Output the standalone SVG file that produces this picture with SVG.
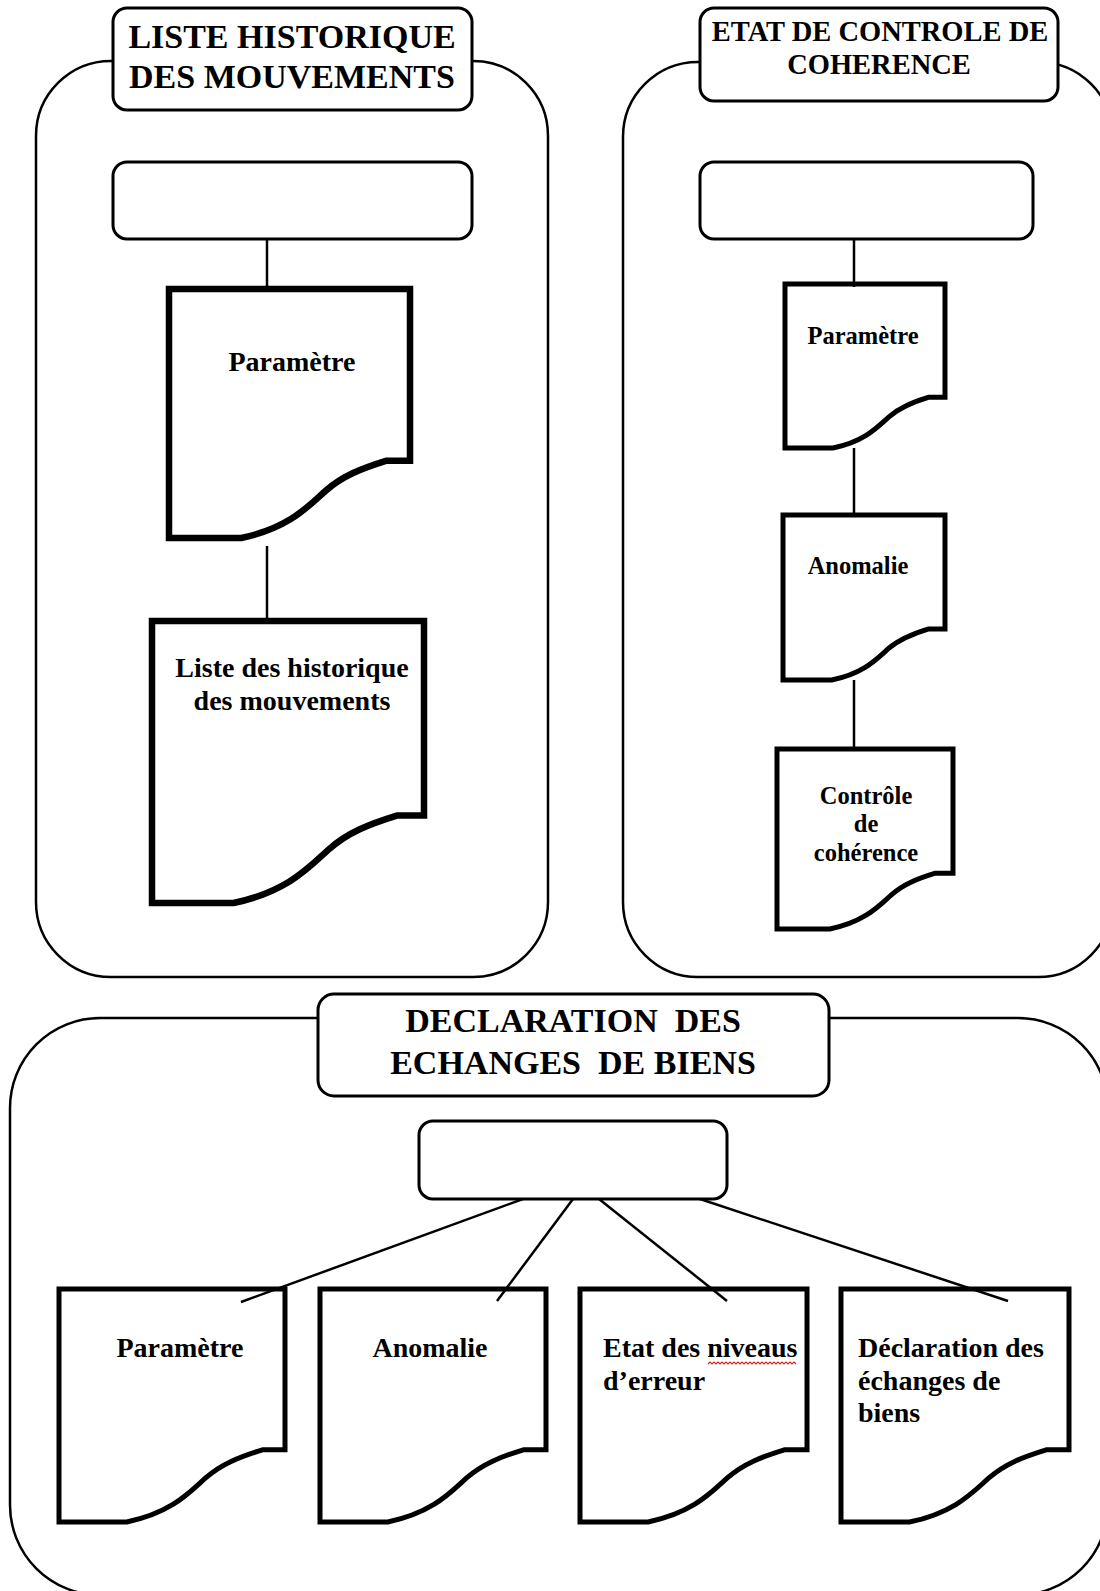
<svg xmlns="http://www.w3.org/2000/svg" width="1100" height="1591" viewBox="0 0 1100 1591">
<style>
.frame{fill:none;stroke:#000;stroke-width:2.5}
.label{fill:#fff;stroke:#000;stroke-width:3}
.inner{fill:#fff;stroke:#000;stroke-width:3}
.doc{fill:#fff;stroke:#000;stroke-width:5;stroke-linejoin:miter}
.docw{fill:#fff;stroke:#000;stroke-width:6.5;stroke-linejoin:miter}
.conn line{stroke:#000;stroke-width:2.5}
.tt{font-family:"Liberation Serif","Times New Roman",serif;font-weight:bold;fill:#000;text-anchor:middle}
.t{font-family:"Liberation Serif","Times New Roman",serif;font-weight:bold;font-size:28px;fill:#000}
.m{text-anchor:middle}
.s{font-size:24.5px}
</style>
<rect width="1100" height="1591" fill="#fff"/>

<g id="frames">
<rect id="frame-liste" class="frame" x="36" y="61" width="512" height="916" rx="75"/>
<rect id="frame-etat" class="frame" x="623" y="62" width="490" height="915" rx="75"/>
<rect id="frame-declaration" class="frame" x="10" y="1018" width="1098" height="577" rx="90"/>
</g>

<g id="title-liste">
<rect class="label" x="113" y="8" width="359" height="102" rx="14"/>
<text class="tt" x="292" y="48" font-size="34">LISTE  HISTORIQUE</text>
<text class="tt" x="292" y="88" font-size="34">DES MOUVEMENTS</text>
</g>
<g id="title-etat">
<rect class="label" x="700" y="8" width="358" height="93" rx="14"/>
<text class="tt" x="880" y="41" font-size="28.5">ETAT DE CONTROLE DE</text>
<text class="tt" x="879" y="74" font-size="28.5">COHERENCE</text>
</g>
<g id="title-declaration">
<rect class="label" x="318" y="994" width="511" height="102" rx="16"/>
<text class="tt" x="573" y="1032" font-size="34" style="white-space:pre">DECLARATION  DES</text>
<text class="tt" x="573" y="1074" font-size="34" style="white-space:pre">ECHANGES  DE BIENS</text>
</g>

<g id="root-liste"><rect class="inner" x="113" y="162" width="359" height="77" rx="14"/></g>
<g id="root-etat"><rect class="inner" x="700" y="162" width="333" height="77" rx="14"/></g>
<g id="root-declaration"><rect class="inner" x="419" y="1121" width="308" height="78" rx="14"/></g>

<g id="doc-l-parametre">
<path class="docw" d="M169,289 H410 V460.8 H385.9 C361.8,468.3 342.5,475.8 325.7,490.7 C308.8,505.6 289.5,528 241.3,538 H169 Z"/>
<text class="t m" x="292" y="371">Paramètre</text>
</g>
<g id="doc-l-liste">
<path class="docw" d="M152,621 H424 V815.6 H396.8 C369.6,824 347.8,832.5 328.8,849.4 C309.8,866.3 288,891.7 233.6,903 H152 Z"/>
<text class="t m" x="292" y="677">Liste des historique</text>
<text class="t m" x="292" y="710">des mouvements</text>
</g>

<g id="doc-r-parametre">
<path class="doc" d="M785,284 H945 V397.2 H929 C913,402.1 900.2,407 889,416.8 C877.8,426.7 865,441.4 833,448 H785 Z"/>
<text class="t m s" x="863" y="344">Paramètre</text>
</g>
<g id="doc-r-anomalie">
<path class="doc" d="M783,515 H945 V628.9 H928.8 C912.6,633.8 899.6,638.8 888.3,648.7 C877,658.6 864,673.4 831.6,680 H783 Z"/>
<text class="t m s" x="858" y="574">Anomalie</text>
</g>
<g id="doc-r-controle">
<path class="doc" d="M777,749 H953 V873.2 H935.4 C917.8,878.6 903.7,884 891.4,894.8 C879.1,905.6 865,921.8 829.8,929 H777 Z"/>
<text class="t m s" x="866" y="804">Contrôle</text>
<text class="t m s" x="866" y="832">de</text>
<text class="t m s" x="866" y="861">cohérence</text>
</g>

<g id="doc-b-parametre">
<path class="doc" d="M59,1289 H285 V1449.8 H262.4 C239.8,1456.8 221.7,1463.8 205.9,1477.7 C190.1,1491.7 172,1512.7 126.8,1522 H59 Z"/>
<text class="t m" x="180" y="1357">Paramètre</text>
</g>
<g id="doc-b-anomalie">
<path class="doc" d="M320,1289 H546 V1449.8 H523.4 C500.8,1456.8 482.7,1463.8 466.9,1477.7 C451.1,1491.7 433,1512.7 387.8,1522 H320 Z"/>
<text class="t m" x="430" y="1357">Anomalie</text>
</g>
<g id="doc-b-etat">
<path class="doc" d="M580,1289 H807 V1449.8 H784.3 C761.6,1456.8 743.4,1463.8 727.6,1477.7 C711.7,1491.7 693.5,1512.7 648.1,1522 H580 Z"/>
<text class="t" x="603" y="1357">Etat des niveaus</text>
<text class="t" x="603" y="1390">d’erreur</text>
<path d="M708,1364 l2,-2 l2,2 l2,-2 l2,2 l2,-2 l2,2 l2,-2 l2,2 l2,-2 l2,2 l2,-2 l2,2 l2,-2 l2,2 l2,-2 l2,2 l2,-2 l2,2 l2,-2 l2,2 l2,-2 l2,2 l2,-2 l2,2 l2,-2 l2,2 l2,-2 l2,2 l2,-2 l2,2 l2,-2 l2,2 l2,-2 l2,2 l2,-2 l2,2 l2,-2 l2,2 l2,-2 l2,2 l2,-2 l2,2 l2,-2 l2,2" fill="none" stroke="#e02020" stroke-width="1.2"/>
</g>
<g id="doc-b-declaration">
<path class="doc" d="M841,1289 H1069 V1449.8 H1046.2 C1023.4,1456.8 1005.2,1463.8 989.2,1477.7 C973.2,1491.7 955,1512.7 909.4,1522 H841 Z"/>
<text class="t" x="858" y="1357">Déclaration des</text>
<text class="t" x="858" y="1390">échanges de</text>
<text class="t" x="858" y="1422">biens</text>
</g>

<g id="connectors" class="conn">
<line x1="267" y1="239" x2="267" y2="289"/>
<line x1="267" y1="546" x2="267" y2="621"/>
<line x1="854" y1="239" x2="854" y2="287"/>
<line x1="854" y1="448" x2="854" y2="517"/>
<line x1="854" y1="680" x2="854" y2="751"/>
<line x1="523" y1="1199" x2="241" y2="1302"/>
<line x1="573" y1="1199" x2="497" y2="1301"/>
<line x1="599" y1="1199" x2="727" y2="1301"/>
<line x1="700" y1="1199" x2="1008" y2="1301"/>
</g>
</svg>
